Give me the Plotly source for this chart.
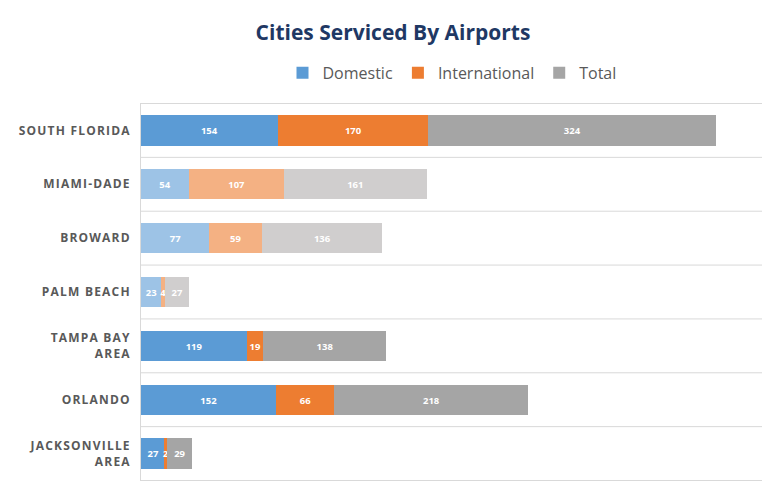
import plotly.graph_objects as go

cities = ["SOUTH FLORIDA", "MIAMI-DADE", "BROWARD", "PALM BEACH",
          "TAMPA BAY<br>AREA", "ORLANDO", "JACKSONVILLE<br>AREA"]
domestic = [154, 54, 77, 23, 119, 152, 27]
international = [170, 107, 59, 4, 19, 66, 2]
total = [324, 161, 136, 27, 138, 218, 29]
light_rows = [False, True, True, True, False, False, False]

dark = {"Domestic": "#5B9BD5", "International": "#ED7D31", "Total": "#A5A5A5"}
light = {"Domestic": "#9DC3E6", "International": "#F4B183", "Total": "#D0CECE"}

fig = go.Figure()
for name, vals in [("Domestic", domestic), ("International", international), ("Total", total)]:
    colors = [light[name] if l else dark[name] for l in light_rows]
    fig.add_trace(go.Bar(
        y=cities, x=vals, name=name, orientation="h",
        marker=dict(color=colors, line=dict(width=0)),
        text=vals, textposition="inside", insidetextanchor="middle",
        textfont=dict(color="white", size=11, family="Open Sans"),
        texttemplate="<b>%{text}</b>",
    ))

# row separators
for i in range(len(cities) + 1):
    fig.add_shape(type="line", xref="paper", x0=0, x1=1, yref="y",
                  y0=i - 0.5, y1=i - 0.5, line=dict(color="#D9D9D9", width=1))


def spaced(label):
    return "<b>" + "<br>".join("\u200a".join(part) for part in label.split("<br>")) + "</b>"


fig.update_layout(
    barmode="stack", bargap=0.44,
    width=770, height=489,
    margin=dict(l=133, r=15, t=95, b=16),
    plot_bgcolor="white", paper_bgcolor="white",
    title=dict(text="<b>Cities Serviced By Airports</b>", x=0.5, xanchor="center",
               y=0.95, yanchor="middle",
               font=dict(size=21, color="#1F3864", family="Open Sans")),
    legend=dict(orientation="h", x=0.5, xanchor="center", y=1.08, yanchor="middle",
                font=dict(size=16, color="#595959", family="Open Sans"),
                traceorder="normal"),
    uniformtext=dict(minsize=8, mode="show"),
)
fig.update_xaxes(range=[0, 701], showticklabels=False, showgrid=False, zeroline=False,
                 fixedrange=True)
fig.update_yaxes(autorange="reversed", showline=True, linecolor="#D9D9D9",
                 tickfont=dict(size=12, color="#595959", family="Open Sans"),
                 ticks="", ticklabelstandoff=8,
                 tickvals=cities, ticktext=[spaced(c) for c in cities])

fig.write_html("out.html")
